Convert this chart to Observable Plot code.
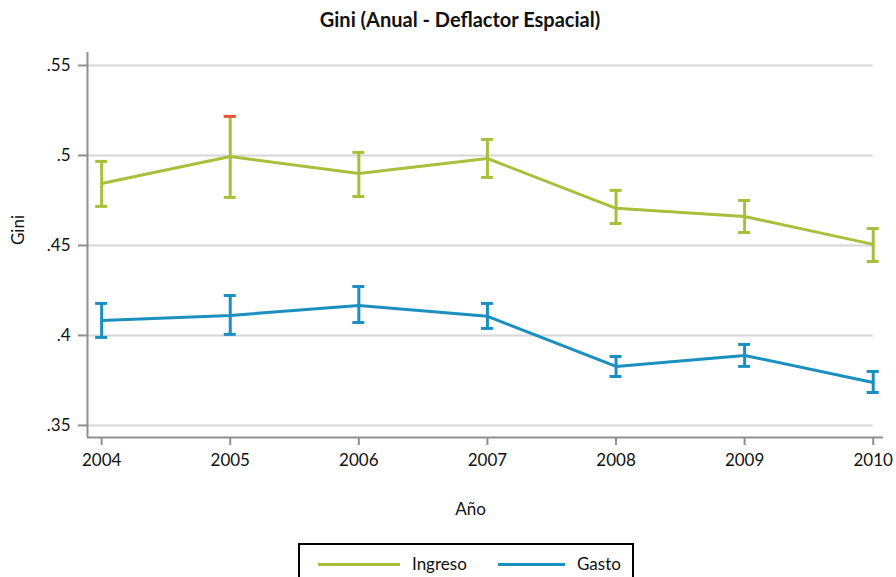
<!DOCTYPE html>
<html>
<head>
<meta charset="utf-8">
<script src="https://cdn.jsdelivr.net/npm/d3@7"></script>
<script src="https://cdn.jsdelivr.net/npm/@observablehq/plot@0.6"></script>
<style>
  html, body { margin: 0; padding: 0; background: #fff; }
  #wrap { position: relative; width: 896px; height: 577px; overflow: hidden; font-family: Lato, "Open Sans", sans-serif; }
  #title { position: absolute; left: 0; width: 920px; top: 7px; text-align: center; font-weight: bold; font-size: 20px; color: #111; }
  #legend { position: absolute; left: 298px; top: 543px; width: 336px; height: 50px; border: 2px solid #000; box-sizing: border-box; }
  #legend .item { position: absolute; top: 8px; font-size: 17px; color: #111; }
  #legend .sw { position: absolute; top: 18px; height: 3px; }
</style>
</head>
<body>
<div id="wrap">
  <div id="title">Gini (Anual - Deflactor Espacial)</div>
  <div id="chart"></div>
  <div id="legend"></div>
</div>
<script>
const years = [2004, 2005, 2006, 2007, 2008, 2009, 2010];
const ingreso   = [0.4844, 0.4994, 0.4900, 0.4983, 0.4706, 0.4661, 0.4506];
const ingresoLo = [0.4717, 0.4767, 0.4772, 0.4878, 0.4622, 0.4572, 0.4411];
const ingresoHi = [0.4967, 0.5217, 0.5017, 0.5089, 0.4806, 0.4750, 0.4594];
const gasto     = [0.4083, 0.4111, 0.4167, 0.4106, 0.3828, 0.3889, 0.3739];
const gastoLo   = [0.3989, 0.4006, 0.4072, 0.4039, 0.3772, 0.3828, 0.3683];
const gastoHi   = [0.4178, 0.4222, 0.4272, 0.4178, 0.3883, 0.3950, 0.3800];
const yTicks = [0.35, 0.40, 0.45, 0.50, 0.55];
const seriesNames = ["Ingreso", "Gasto"];
const seriesColors = ["#a9bf3b", "#1a8fc0"];
const highlightYear = 2005;   // red cap seen in the reference
const highlightColor = "#f0533e";

const rows = [];
years.forEach((yr, i) => {
  rows.push({year: yr, serie: "Ingreso", v: ingreso[i], lo: ingresoLo[i], hi: ingresoHi[i]});
  rows.push({year: yr, serie: "Gasto", v: gasto[i], lo: gastoLo[i], hi: gastoHi[i]});
});
const xDom = [2003.89, 2010.08];
const yDom = [0.3433, 0.5572];
const axisColor = "#8f8f8f";
const font = "Lato, 'Open Sans', sans-serif";

const chart = Plot.plot({
  width: 896,
  height: 577,
  marginTop: 52,
  marginBottom: 140,
  marginLeft: 87,
  marginRight: 13,
  style: {fontFamily: font, fontSize: "17px", color: "#111", background: "white"},
  x: {domain: xDom, ticks: years, tickFormat: d3.format("d"), tickSize: 8, tickPadding: 8, label: null},
  y: {domain: yDom, ticks: yTicks, tickFormat: d => String(+d.toFixed(2)).replace(/^0/, ""), tickSize: 9, tickPadding: 8, label: null},
  color: {domain: seriesNames, range: seriesColors},
  marks: [
    Plot.ruleY(yTicks, {x1: xDom[0], x2: years[years.length - 1], stroke: "#d6d6d6", strokeWidth: 2}),
    Plot.ruleX([xDom[0]], {y1: yDom[0], y2: yDom[1], stroke: axisColor, strokeWidth: 2}),
    Plot.ruleY([yDom[0]], {x1: xDom[0], x2: xDom[1], stroke: axisColor, strokeWidth: 2}),
    Plot.axisX({ticks: years, tickFormat: d3.format("d"), tickSize: 8, tickPadding: 8, stroke: axisColor, strokeWidth: 2, fontSize: 17, label: null}),
    Plot.axisY({ticks: yTicks, tickFormat: d => String(+d.toFixed(2)).replace(/^0/, ""), tickSize: 9, tickPadding: 8, stroke: axisColor, strokeWidth: 2, fontSize: 17, label: null}),
    Plot.ruleX(rows, {x: "year", y1: "lo", y2: "hi", stroke: "serie", strokeWidth: 3}),
    Plot.ruleY(rows, {y: "lo", x1: "year", x2: "year", insetLeft: -6, insetRight: -6, stroke: "serie", strokeWidth: 3}),
    Plot.ruleY(rows, {y: "hi", x1: "year", x2: "year", insetLeft: -6, insetRight: -6, stroke: "serie", strokeWidth: 3}),
    Plot.ruleY(rows.filter(d => d.year === highlightYear && d.serie === "Ingreso"), {y: "hi", x1: "year", x2: "year", insetLeft: -6, insetRight: -6, stroke: highlightColor, strokeWidth: 3}),
    Plot.line(rows, {x: "year", y: "v", z: "serie", stroke: "serie", strokeWidth: 3}),
    Plot.text(["Año"], {frameAnchor: "bottom", dy: 77, dx: -15, text: d => d, fontSize: 17, fill: "#111"}),
    Plot.text(["Gini"], {frameAnchor: "left", dx: -69, rotate: -90, text: d => d, fontSize: 17, fill: "#111"})
  ]
});
document.getElementById("chart").appendChild(chart);

const legend = document.getElementById("legend");
const pos = [{sw: 18, w: 82, t: 112}, {sw: 198, w: 67, t: 277}];
seriesNames.forEach((n, i) => {
  const sw = document.createElement("div");
  sw.className = "sw";
  sw.style.left = pos[i].sw + "px";
  sw.style.width = pos[i].w + "px";
  sw.style.background = seriesColors[i];
  legend.appendChild(sw);
  const t = document.createElement("div");
  t.className = "item";
  t.style.left = pos[i].t + "px";
  t.textContent = n;
  legend.appendChild(t);
});
</script>
</body>
</html>
